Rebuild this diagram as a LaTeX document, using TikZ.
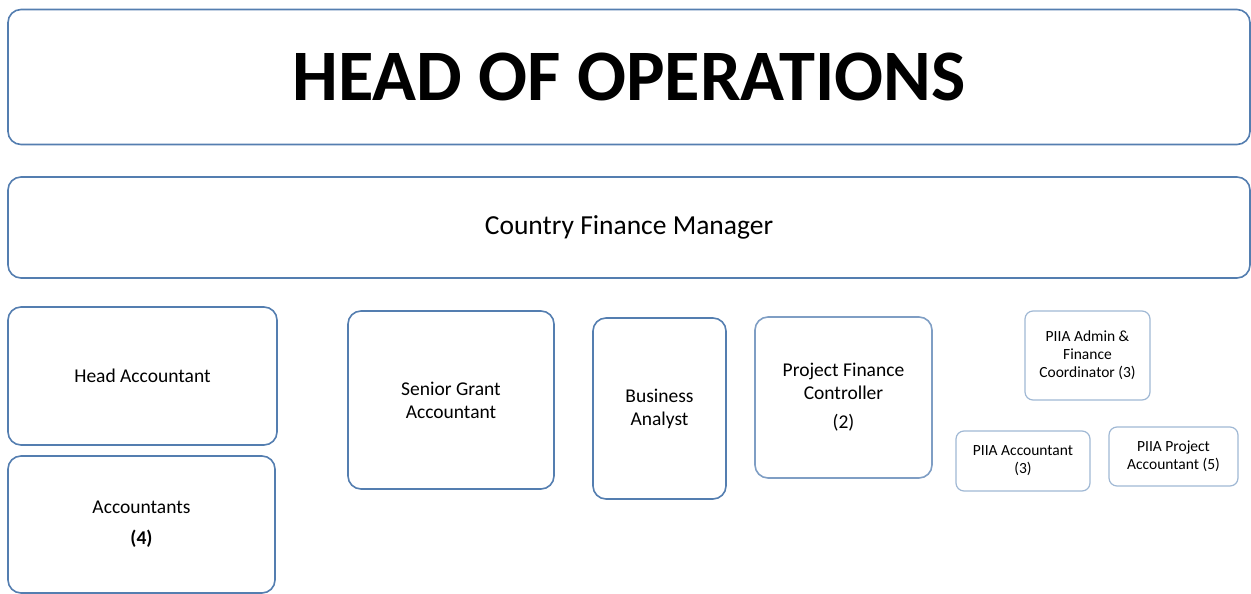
\documentclass[tikz,border=0pt]{standalone}
\usepackage{fontspec}
\setmainfont{Carlito}
\definecolor{edgeblue}{RGB}{84,126,176}
\definecolor{edgepale}{RGB}{160,184,212}
\begin{document}
\begin{tikzpicture}[x=1pt, y=-1pt,
        % --- Box styles ---
        box/.style={
            draw=edgeblue, line width=1.6pt, rounded corners=13pt,
            align=center, inner sep=2pt
        },
        smallbox/.style={
            draw=edgepale, line width=1.2pt, rounded corners=8pt,
            align=center, inner sep=2pt,
            font=\fontsize{15.5}{18}\selectfont
        },
        role/.style={font=\fontsize{19.5}{23}\selectfont},
    ]

    % ===== Canvas =====
    \useasboundingbox (0,0) rectangle (1251,594);

    % ===== Top levels =====
    \node[box, minimum width=1242, minimum height=135,
          font=\fontsize{72.5}{80}\selectfont\bfseries] (head) at (629, 77) {HEAD OF OPERATIONS};
    \node[box, minimum width=1242, minimum height=101,
          font=\fontsize{27.5}{32}\selectfont] (cfm) at (629, 227.5) {Country Finance Manager};

    % ===== Left column =====
    \node[box, role, minimum width=269, minimum height=138] (headacc) at (142.5, 376) {Head Accountant};
    \node[box, role, minimum width=267, minimum height=137] (accs) at (141.5, 524.5)
        {Accountants\\[8pt]\textbf{(4)}};

    % ===== Middle boxes =====
    \node[box, role, minimum width=206, minimum height=178] (sga) at (451, 400)
        {Senior Grant\\Accountant};
    \node[box, role, minimum width=133, minimum height=181] (ba) at (659.5, 408.5)
        {Business\\Analyst};
    \node[box, role, draw=edgeblue!75, minimum width=177, minimum height=161] (pfc) at (843.5, 397.5)
        {Project Finance\\Controller\\[6pt](2)};

    % ===== PIIA boxes =====
    \node[smallbox, minimum width=125, minimum height=89] (piiaadmin) at (1087.5, 355.5)
        {PIIA Admin \&\\Finance\\Coordinator (3)};
    \node[smallbox, minimum width=134, minimum height=60] (piiaacc) at (1023, 461)
        {PIIA Accountant\\(3)};
    \node[smallbox, minimum width=129, minimum height=59] (piiaproj) at (1173.5, 456.5)
        {PIIA Project\\Accountant (5)};

    \end{tikzpicture}
\end{document}
